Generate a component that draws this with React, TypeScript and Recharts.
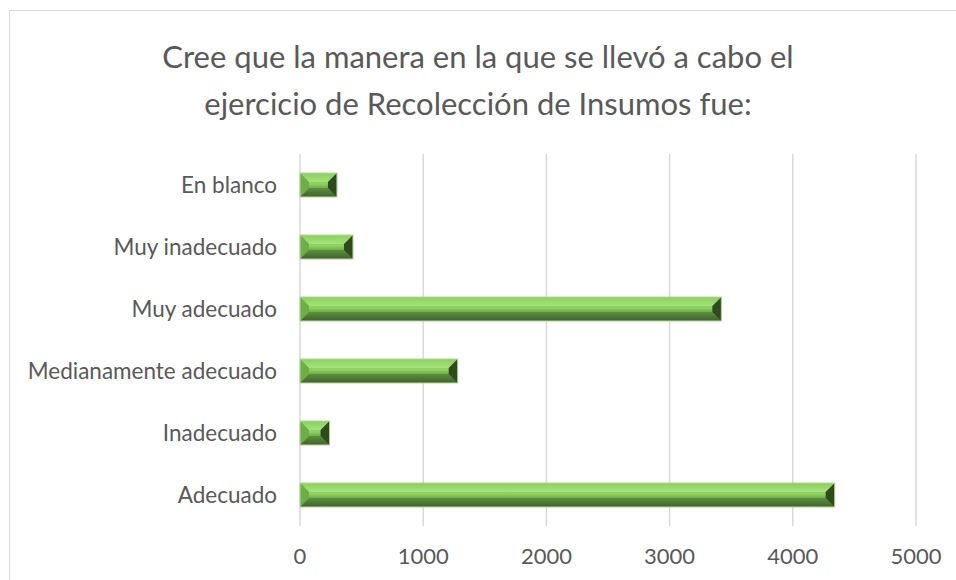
import React from "react"
import { BarChart, Bar, XAxis, YAxis, CartesianGrid } from "recharts"

const categories = [
  "En blanco",
  "Muy inadecuado",
  "Muy adecuado",
  "Medianamente adecuado",
  "Inadecuado",
  "Adecuado",
]
const values = [300, 430, 3420, 1280, 240, 4340]
const xTicks = [0, 1000, 2000, 3000, 4000, 5000]

const data = categories.map((name, i) => ({ name, value: values[i] }))

const font = "Lato, sans-serif"

function BevelBar(props: any) {
  const { x, y, width, height } = props
  if (!width || width <= 0) return null
  const b = Math.min(9, height / 2 - 2, width / 2)
  const x2 = x + width
  const y2 = y + height
  const pts = (arr: number[][]) => arr.map((p) => p.join(",")).join(" ")
  return (
    <g>
      <rect x={x} y={y} width={width} height={height} fill="url(#faceGrad)" />
      <polygon points={pts([[x, y], [x2, y], [x2 - b, y + b], [x + b, y + b]])} fill="url(#topGrad)" />
      <polygon points={pts([[x, y2], [x2, y2], [x2 - b, y2 - b], [x + b, y2 - b]])} fill="url(#botGrad)" />
      <polygon points={pts([[x, y], [x + b, y + b], [x + b, y2 - b], [x, y2]])} fill="#6fae47" />
      <polygon points={pts([[x2, y], [x2 - b, y + b], [x2 - b, y2 - b], [x2, y2]])} fill="#2f4b1e" />
      <rect x={x} y={y} width={width} height={height} fill="none" stroke="#b3d69b" strokeWidth={1} />
    </g>
  )
}

export default function App() {
  return (
    <div style={{ position: "absolute", left: 0, top: 0, width: 956, height: 580, background: "#fff", overflow: "hidden" }}>
      <div
        style={{
          position: "absolute",
          left: 9,
          top: 10,
          width: 960,
          height: 600,
          borderTop: "1px solid #d9d9d9",
          borderLeft: "1px solid #d9d9d9",
        }}
      />
      <div
        style={{
          position: "absolute",
          left: 0,
          top: 33,
          width: 956,
          textAlign: "center",
          fontFamily: font,
          fontSize: 31,
          lineHeight: "47px",
          color: "#595959",
        }}
      >
        Cree que la manera en la que se llevó a cabo el
        <br />
        ejercicio de Recolección de Insumos fue:
      </div>
      <div style={{ position: "absolute", left: 0, top: 0 }}>
        <BarChart
          width={956}
          height={580}
          data={data}
          layout="vertical"
          margin={{ top: 154, right: 40, bottom: 24, left: 0 }}
          barSize={24}
        >
          <defs>
            <linearGradient id="faceGrad" x1="0" y1="0" x2="0" y2="1">
              <stop offset="0%" stopColor="#7fc552" />
              <stop offset="45%" stopColor="#8fd462" />
              <stop offset="65%" stopColor="#6aa745" />
              <stop offset="100%" stopColor="#4d7a34" />
            </linearGradient>
            <linearGradient id="topGrad" x1="0" y1="0" x2="0" y2="1">
              <stop offset="0%" stopColor="#8bcf5d" />
              <stop offset="100%" stopColor="#a6e27c" />
            </linearGradient>
            <linearGradient id="botGrad" x1="0" y1="0" x2="0" y2="1">
              <stop offset="0%" stopColor="#5d8f40" />
              <stop offset="100%" stopColor="#3f6229" />
            </linearGradient>
          </defs>
          <CartesianGrid horizontal={false} stroke="#d9d9d9" strokeWidth={1.5} />
          <XAxis
            type="number"
            domain={[0, 5000]}
            ticks={xTicks}
            axisLine={false}
            tickLine={false}
            tickMargin={16}
            height={30}
            tick={{ fill: "#595959", fontSize: 22, fontFamily: font }}
          />
          <YAxis
            type="category"
            dataKey="name"
            width={300}
            axisLine={false}
            tickLine={false}
            tickMargin={17}
            tick={{ fill: "#595959", fontSize: 22.5, fontFamily: font }}
          />
          <Bar dataKey="value" shape={BevelBar} isAnimationActive={false} />
        </BarChart>
      </div>
    </div>
  )
}
